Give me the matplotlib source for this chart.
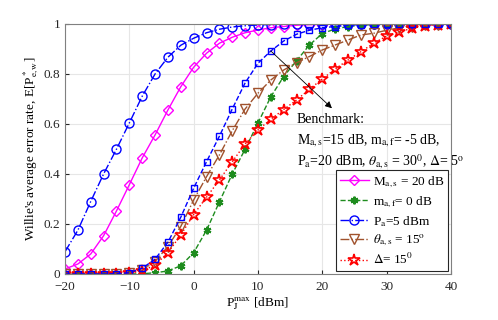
import numpy as np
import matplotlib
matplotlib.use("Agg")
import matplotlib.pyplot as plt

plt.rcParams['font.family'] = ['Liberation Serif', 'DejaVu Serif']
plt.rcParams['mathtext.fontset'] = 'stix'
plt.rcParams['font.size'] = 9.5

pj = list(range(-20, 41, 2))

ma_s20 = [0.02, 0.04, 0.08, 0.153, 0.252, 0.357, 0.464, 0.556, 0.656, 0.749, 0.827,
          0.883, 0.923, 0.947, 0.965, 0.976, 0.985, 0.99, 0.995, 0.997, 0.998,
          0.999, 1.0, 1.0, 1.0, 1.0, 1.0, 1.0, 1.0, 1.0, 1.0]
maf0 = [0.0, 0.0, 0.0, 0.0, 0.0, 0.0, 0.001, 0.005, 0.012, 0.033, 0.085,
        0.175, 0.288, 0.4, 0.499, 0.604, 0.709, 0.79, 0.853, 0.916, 0.962,
        0.98, 0.99, 0.995, 0.998, 0.999, 1.0, 1.0, 1.0, 1.0, 1.0]
pa5 = [0.089, 0.175, 0.29, 0.40, 0.499, 0.604, 0.711, 0.80, 0.867, 0.915, 0.943,
       0.965, 0.979, 0.988, 0.993, 0.996, 0.998, 0.999, 1.0, 1.0, 1.0,
       1.0, 1.0, 1.0, 1.0, 1.0, 1.0, 1.0, 1.0, 1.0, 1.0]
theta15 = [0.0, 0.0, 0.0, 0.0, 0.001, 0.004, 0.015, 0.05, 0.11, 0.19, 0.296,
           0.389, 0.476, 0.573, 0.66, 0.723, 0.776, 0.816, 0.845, 0.87, 0.896,
           0.916, 0.936, 0.956, 0.963, 0.975, 0.985, 0.99, 0.995, 0.998, 1.0]
delta15 = [0.0, 0.0, 0.0, 0.0, 0.001, 0.004, 0.012, 0.036, 0.085, 0.156, 0.238,
           0.307, 0.376, 0.449, 0.52, 0.576, 0.619, 0.658, 0.696, 0.739, 0.78,
           0.82, 0.856, 0.889, 0.923, 0.952, 0.969, 0.983, 0.993, 0.998, 1.0]
bench = [0.0, 0.0, 0.0, 0.0, 0.001, 0.005, 0.023, 0.059, 0.127, 0.227, 0.343,
         0.449, 0.551, 0.66, 0.764, 0.843, 0.892, 0.932, 0.959, 0.975, 0.985,
         0.99, 0.995, 0.998, 0.999, 1.0, 1.0, 1.0, 1.0, 1.0, 1.0]

labels = [r'M$_{\mathrm{a,s}}$ = 20 dB', r'm$_{\mathrm{a,f}}$= 0 dB',
          r'P$_{\mathrm{a}}$=5 dBm', r'$\theta_{\mathrm{a,s}}$ = 15$^{\mathrm{o}}$',
          r'$\Delta$= 15$^0$']

fig = plt.figure(figsize=(4.98, 3.2), dpi=100)
ax = fig.add_axes([0.1305, 0.14375, 0.775, 0.78125])

brown = '#A0522D'
green = '#1E8C1E'
ax.plot(pj, ma_s20, '-', color='#FF00FF', lw=1.0, marker='D', ms=5.5, mfc='none', mew=1.0, label=labels[0])
ax.plot(pj, maf0, '--', color=green, lw=1.0, marker=(6, 2, 0), ms=5.5, mew=1.5, label=labels[1])
ax.plot(pj, pa5, '-.', color='#0000FF', lw=1.0, marker='o', ms=6.5, mfc='none', mew=1.0, label=labels[2])
ax.plot(pj, theta15, '-.', color=brown, lw=1.0, marker='v', ms=7, mfc='none', mew=1.0, label=labels[3])
ax.plot(pj, delta15, ':', color='#FF0000', lw=1.0, marker='*', ms=9, mfc='none', mew=1.2, label=labels[4])
ax.plot(pj, bench, '--', color='#0000FF', lw=1.0, marker='s', ms=5, mfc='none', mew=1.0)

ax.set_xlim(-20, 40)
ax.set_ylim(0, 1)
ax.set_xticks([-20, -10, 0, 10, 20, 30, 40])
ax.set_yticks([0, 0.2, 0.4, 0.6, 0.8, 1])
ax.set_yticklabels(['0', '0.2', '0.4', '0.6', '0.8', '1'])
ax.grid(True, color='#E6E6E6', lw=0.8)
ax.set_axisbelow(True)
ax.tick_params(direction='in', length=3, colors='#262626', labelcolor='#262626')
ax.tick_params(axis='x', pad=5)
for s in ax.spines.values():
    s.set_color('#808080')
    s.set_linewidth(0.8)

ax.set_xlabel(r'P$_\mathrm{J}^\mathrm{max}$ [dBm]', labelpad=2)
ax.set_ylabel(r"Willie's average error rate, E[P$^*_{\mathrm{e,w}}$]", labelpad=2)

ax.annotate('', xy=(21.5, 0.663), xytext=(12, 0.892),
            arrowprops=dict(arrowstyle='-|>', color='black', lw=0.6, mutation_scale=10,
                            shrinkA=0, shrinkB=0))
ax.text(16.0, 0.605, 'Benchmark:', fontsize=10)
ax.text(16.0, 0.52, r'M$_{\mathrm{a,s}}$=15 dB, m$_{\mathrm{a,f}}$= -5 dB,', fontsize=10)
ax.text(16.0, 0.435, r'P$_{\mathrm{a}}$=20 dBm, $\theta_{\mathrm{a,s}}$ = 30$^0$, $\Delta$= 5$^\mathrm{o}$', fontsize=10)

leg = ax.legend(loc='lower right', fontsize=9.5, frameon=True, fancybox=False,
                edgecolor='#262626', framealpha=1, borderaxespad=0.2,
                handlelength=2.2, handletextpad=0.3, labelspacing=0.3, borderpad=0.3)
leg.get_frame().set_linewidth(0.8)

fig.savefig('out.png', dpi=100)
